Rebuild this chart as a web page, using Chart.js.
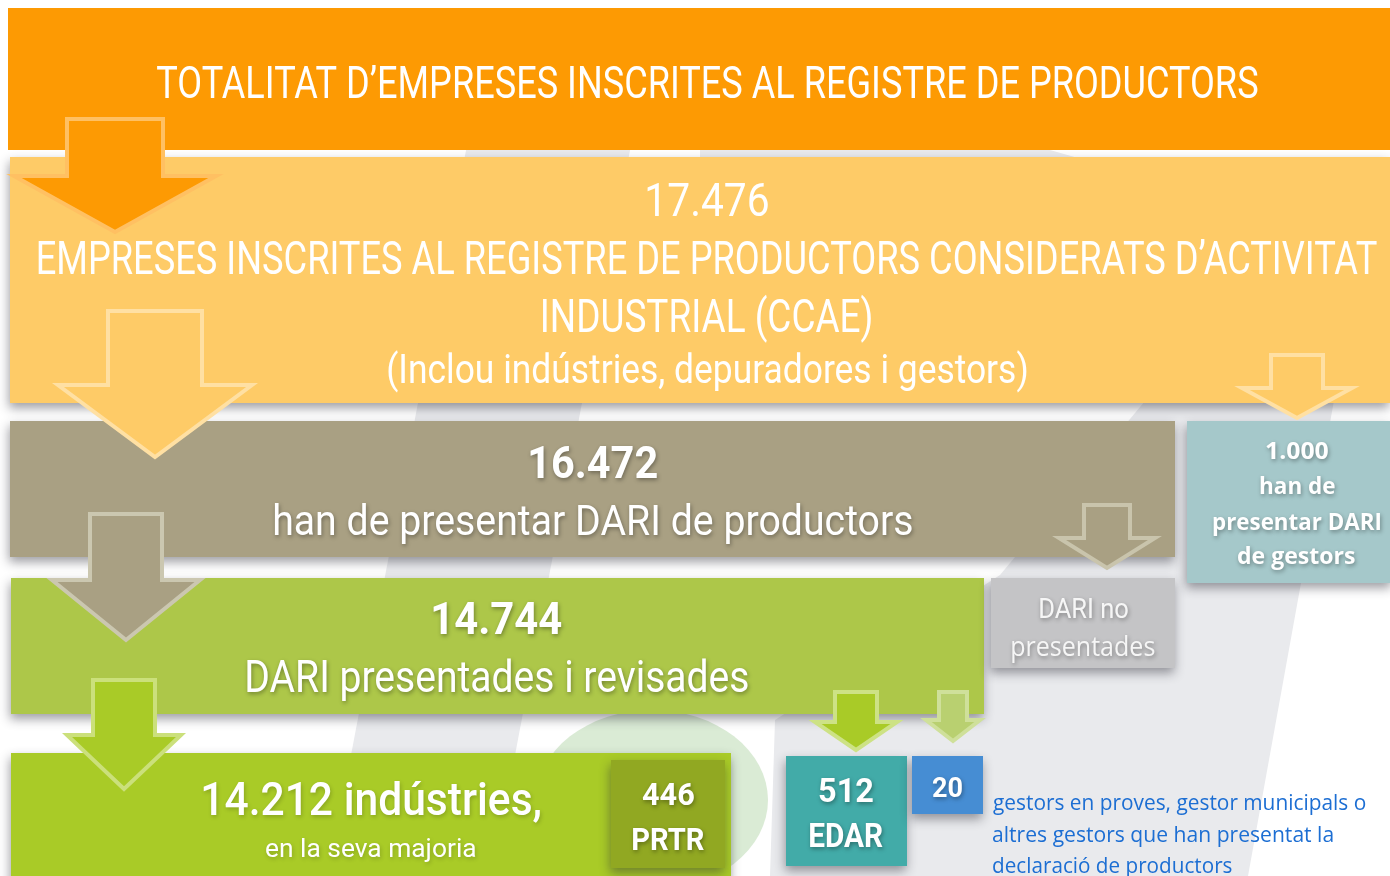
<!DOCTYPE html>
<html lang="ca">
<head>
<meta charset="utf-8">
<title>Registre de productors</title>
<script src="https://cdn.jsdelivr.net/npm/chart.js@4"></script>
<style>
  html, body { margin: 0; padding: 0; background: #fff; }
  canvas { display: block; }
</style>
</head>
<body>
<canvas id="flow" width="1390" height="876"></canvas>
<script>
const titleText = 'TOTALITAT D’EMPRESES INSCRITES AL REGISTRE DE PRODUCTORS';
const stageValues = [17476, 16472, 14744, 14212];
const stageCaptions = [
  'EMPRESES INSCRITES AL REGISTRE DE PRODUCTORS CONSIDERATS D’ACTIVITAT',
  'han de presentar DARI de productors',
  'DARI presentades i revisades',
  'indústries,'
];
const stageNotes = ['INDUSTRIAL (CCAE)', '(Inclou indústries, depuradores i gestors)', 'en la seva majoria'];
const branchValues = [1000, 446, 512, 20];
const branchLabels = [['han de', 'presentar DARI', 'de gestors'], ['PRTR'], ['EDAR'], []];
const missingLabel = ['DARI no', 'presentades'];
const noteLines = [
  'gestors en proves, gestor municipals o',
  'altres gestors que han presentat la',
  'declaració de productors'
];

const fmt = (n) => String(n).replace(/\B(?=(\d{3})+(?!\d))/g, '.');

// layout (page units, mapped through the chart scales)
const boxes = [
  { x0: 8, y0: 8, x1: 1390, y1: 150, color: '#FD9A03', shadow: false },
  { x0: 10, y0: 157, x1: 1390, y1: 403, color: '#FECB67', shadow: true },
  { x0: 10, y0: 421, x1: 1175, y1: 557, color: '#A9A083', shadow: true },
  { x0: 1187, y0: 421, x1: 1392, y1: 583, color: '#A5C8CA', shadow: true },
  { x0: 11, y0: 578, x1: 984, y1: 714, color: '#ADC749', shadow: true },
  { x0: 991, y0: 578, x1: 1175, y1: 668, color: '#C4C4C6', shadow: true },
  { x0: 11, y0: 753, x1: 731, y1: 890, color: '#A9CB27', shadow: true },
  { x0: 611, y0: 760, x1: 725, y1: 868, color: '#91A822', shadow: true },
  { x0: 786, y0: 756, x1: 907, y1: 866, color: '#42ABA8', shadow: true },
  { x0: 912, y0: 756, x1: 983, y1: 814, color: '#468DD3', shadow: true }
];

const arrows = [
  { after: 1, cx: 115, sw: 48, hw: 101, top: 119, sh: 176, tip: 232, fill: '#FD9A03', stroke: '#FFC062' },
  { after: 3, cx: 155, sw: 47, hw: 97, top: 311, sh: 385, tip: 457, fill: '#FECB67', stroke: '#FFE0A3' },
  { after: 3, cx: 1297, sw: 26, hw: 55, top: 355, sh: 388, tip: 418, fill: '#FECB67', stroke: '#FFE0A3' },
  { after: 5, cx: 126, sw: 36, hw: 74, top: 514, sh: 580, tip: 640, fill: '#A9A083', stroke: '#CBC7B0' },
  { after: 5, cx: 1107, sw: 23, hw: 48, top: 505, sh: 538, tip: 568, fill: '#A9A083', stroke: '#C9C4AC' },
  { after: 9, cx: 124, sw: 31, hw: 57, top: 680, sh: 735, tip: 789, fill: '#A9CB27', stroke: '#CBE07B' },
  { after: 9, cx: 856, sw: 21, hw: 41, top: 692, sh: 722, tip: 750, fill: '#A9CB27', stroke: '#CDE285' },
  { after: 9, cx: 953, sw: 14, hw: 27, top: 692, sh: 720, tip: 741, fill: '#B9D070', stroke: '#CFE09A' }
];

const DIN = 'Roboto, "DejaVu Sans", sans-serif';
const HUM = '"Open Sans", "Noto Sans", sans-serif';

const texts = [
  { s: titleText, x0: 157, x1: 1258, y: 98, size: 45, w: 400, f: DIN, glow: false },
  { s: fmt(stageValues[0]), x0: 647, x1: 768, y: 216, size: 46, w: 400, f: DIN, glow: false },
  { s: stageCaptions[0], x0: 38, x1: 1377, y: 274, size: 46, w: 400, f: DIN, glow: false },
  { s: stageNotes[0], x0: 543, x1: 871, y: 332, size: 46, w: 400, f: DIN, glow: false },
  { s: stageNotes[1], x0: 388, x1: 1027, y: 383, size: 40, w: 400, f: DIN, glow: false },
  { s: fmt(stageValues[1]), x0: 530, x1: 657, y: 478, size: 44, w: 700, f: DIN },
  { s: stageCaptions[1], x0: 274, x1: 912, y: 535, size: 42, w: 400, f: DIN },
  { s: fmt(stageValues[2]), x0: 433, x1: 562, y: 634, size: 44, w: 700, f: DIN },
  { s: stageCaptions[2], x0: 247, x1: 748, y: 692, size: 44, w: 400, f: DIN },
  { s: fmt(stageValues[3]) + ' ' + stageCaptions[3], x0: 203, x1: 540, y: 815, size: 46, w: 500, f: DIN, soft: true },
  { s: stageNotes[2], x0: 266, x1: 476, y: 857, size: 25, w: 400, f: DIN, soft: true },
  { s: fmt(branchValues[0]), x0: 1266, x1: 1328, y: 459, size: 24, w: 700, f: HUM },
  { s: branchLabels[0][0], x0: 1260, x1: 1335, y: 494, size: 23, w: 700, f: HUM },
  { s: branchLabels[0][1], x0: 1213, x1: 1380, y: 530, size: 24, w: 700, f: HUM },
  { s: branchLabels[0][2], x0: 1238, x1: 1355, y: 564, size: 23, w: 700, f: HUM },
  { s: missingLabel[0], x0: 1040, x1: 1128, y: 618, size: 28, w: 400, f: DIN, color: '#F6F6F6' },
  { s: missingLabel[1], x0: 1012, x1: 1155, y: 656, size: 28, w: 400, f: HUM, color: '#F6F6F6' },
  { s: fmt(branchValues[1]), x0: 642, x1: 694, y: 805, size: 31, w: 700, f: DIN },
  { s: branchLabels[1][0], x0: 633, x1: 704, y: 850, size: 32, w: 700, f: DIN },
  { s: fmt(branchValues[2]), x0: 819, x1: 873, y: 802, size: 33, w: 700, f: DIN },
  { s: branchLabels[2][0], x0: 810, x1: 883, y: 847, size: 33, w: 700, f: DIN },
  { s: fmt(branchValues[3]), x0: 932, x1: 962, y: 797, size: 28, w: 700, f: DIN },
  { s: noteLines[0], x0: 993, x1: 1366, y: 810, size: 22, w: 400, f: HUM, color: '#1C6ED3', glow: false },
  { s: noteLines[1], x0: 993, x1: 1333, y: 842, size: 22, w: 400, f: HUM, color: '#1C6ED3', glow: false },
  { s: noteLines[2], x0: 993, x1: 1232, y: 873, size: 22, w: 400, f: HUM, color: '#1C6ED3', glow: false }
];

const watermark = [
  { pts: [[468, 140], [632, 140], [492, 876], [328, 876]] },
  { pts: [[700, 150], [1050, 150], [1085, 160], [700, 160]] },
  { pts: [[1150, 395], [1335, 395], [1248, 876], [770, 876], [775, 720], [1000, 575]] }
];

const flowPlugin = {
  id: 'flow',
  beforeDraw(chart) {
    const { ctx } = chart;
    const px = (v) => chart.scales.x.getPixelForValue(v);
    const py = (v) => chart.scales.y.getPixelForValue(v);
    ctx.save();
    ctx.fillStyle = '#ffffff';
    ctx.fillRect(0, 0, chart.width, chart.height);
    ctx.fillStyle = '#E9EAED';
    watermark.forEach((p) => {
      ctx.beginPath();
      p.pts.forEach(([x, y], i) => (i ? ctx.lineTo(px(x), py(y)) : ctx.moveTo(px(x), py(y))));
      ctx.closePath();
      ctx.fill();
    });
    ctx.fillStyle = '#DAEBD5';
    ctx.beginPath();
    ctx.ellipse(px(652), py(800), 116, 90, 0, 0, Math.PI * 2);
    ctx.fill();
    ctx.restore();
  },
  afterDraw(chart) {
    const { ctx } = chart;
    const px = (v) => chart.scales.x.getPixelForValue(v);
    const py = (v) => chart.scales.y.getPixelForValue(v);

    function drawBox(b) {
      ctx.save();
      if (b.shadow) {
        ctx.shadowColor = 'rgba(40,40,50,0.45)';
        ctx.shadowBlur = 10;
        ctx.shadowOffsetX = -1;
        ctx.shadowOffsetY = 5;
      }
      ctx.fillStyle = b.color;
      ctx.fillRect(px(b.x0), py(b.y0), px(b.x1) - px(b.x0), py(b.y1) - py(b.y0));
      ctx.restore();
    }

    function drawArrow(a) {
      const pts = [
        [a.cx - a.sw, a.top], [a.cx + a.sw, a.top], [a.cx + a.sw, a.sh],
        [a.cx + a.hw, a.sh], [a.cx, a.tip], [a.cx - a.hw, a.sh], [a.cx - a.sw, a.sh]
      ];
      ctx.save();
      ctx.beginPath();
      pts.forEach(([x, y], i) => (i ? ctx.lineTo(px(x), py(y)) : ctx.moveTo(px(x), py(y))));
      ctx.closePath();
      ctx.fillStyle = a.fill;
      ctx.fill();
      ctx.lineWidth = 4;
      ctx.lineJoin = 'miter';
      ctx.strokeStyle = a.stroke;
      ctx.stroke();
      ctx.restore();
    }

    boxes.forEach((b, i) => {
      drawBox(b);
      arrows.filter((a) => a.after === i).forEach(drawArrow);
    });

    texts.forEach((t) => {
      ctx.save();
      ctx.font = `${t.w} ${t.size}px ${t.f}`;
      ctx.textBaseline = 'alphabetic';
      ctx.textAlign = 'left';
      const m = ctx.measureText(t.s);
      const ink = m.actualBoundingBoxLeft + m.actualBoundingBoxRight;
      const sx = (px(t.x1) - px(t.x0)) / ink;
      if (t.glow !== false) {
        ctx.shadowColor = t.soft ? 'rgba(0,0,0,0.2)' : 'rgba(0,0,0,0.35)';
        ctx.shadowBlur = 4;
        ctx.shadowOffsetX = 1;
        ctx.shadowOffsetY = 2;
      }
      ctx.translate(px(t.x0) + m.actualBoundingBoxLeft * sx, py(t.y));
      ctx.scale(sx, 1);
      ctx.fillStyle = t.color || '#ffffff';
      ctx.fillText(t.s, 0, 0);
      ctx.restore();
    });
  }
};

new Chart(document.getElementById('flow'), {
  type: 'scatter',
  data: { datasets: [{ data: [], pointRadius: 0 }] },
  options: {
    responsive: false,
    animation: false,
    events: [],
    layout: { padding: 0 },
    plugins: { legend: { display: false }, tooltip: { enabled: false } },
    scales: {
      x: { type: 'linear', min: 0, max: 1390, display: false },
      y: { type: 'linear', min: 0, max: 876, reverse: true, display: false }
    }
  },
  plugins: [flowPlugin]
});
</script>
</body>
</html>
